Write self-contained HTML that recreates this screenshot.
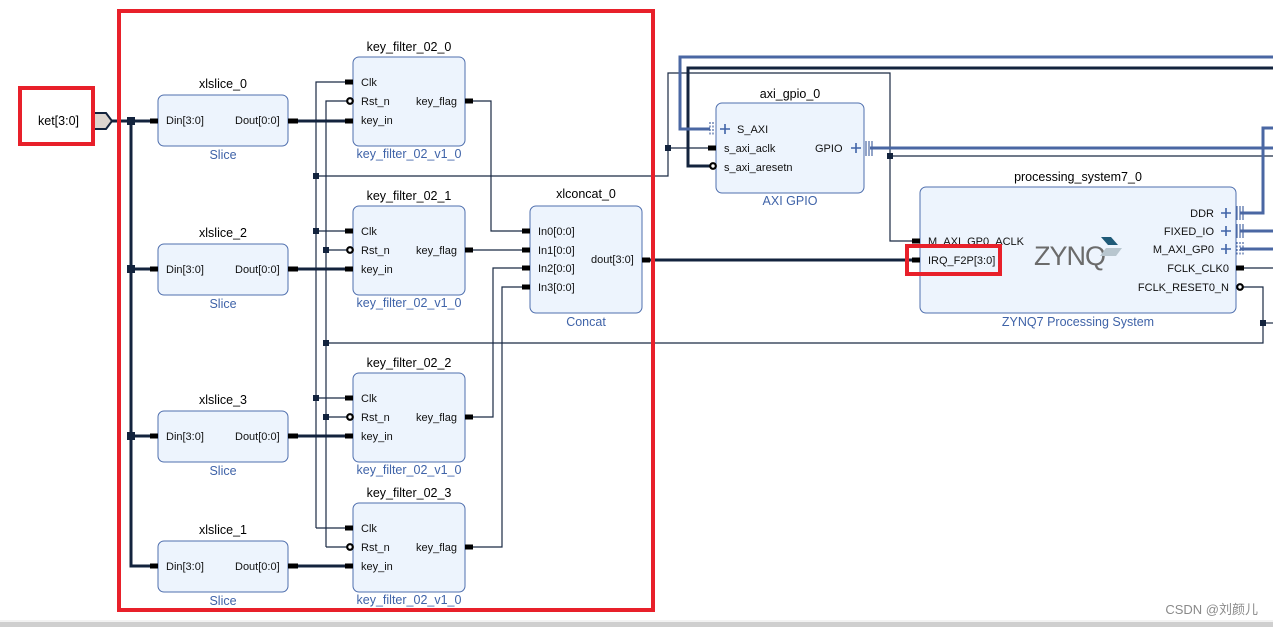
<!DOCTYPE html>
<html><head><meta charset="utf-8"><style>
html,body{margin:0;padding:0;background:#fff;}
svg{display:block;font-family:"Liberation Sans","Noto Sans CJK SC",sans-serif;}
.t{font-size:12.5px;fill:#000}
.p{font-size:11px;fill:#111}
.s{font-size:12.5px;fill:#3f63a8}
.b{fill:#edf4fd;stroke:#4f6fae;stroke-width:1}
.w{stroke:#1a2a44;stroke-width:1.2;fill:none}
.k{stroke:#13233d;stroke-width:3;fill:none}
.bl{stroke:#4a67a3;stroke-width:3;fill:none}
.st{stroke:#000;stroke-width:5}
</style></head><body>
<svg width="1273" height="627" viewBox="0 0 1273 627">
<rect x="0" y="622" width="1273" height="5" fill="#cfcfcf"/>
<line x1="0" y1="621" x2="1273" y2="621" stroke="#e6e6e6"/>
<g class="w">
<path d="M316 528 V82 H353"/><path d="M326 547 V101 H348"/>
<path d="M316 231 H353 M316 398 H353 M316 528 H353"/>
<path d="M326 250 H348 M326 417 H348 M326 547 H348"/>
<path d="M316 176 H668 V73 H890 V241 H920"/>
<path d="M668 148 H716"/>
<path d="M890 156 H1273"/>
<path d="M326 343 H1263 V287 H1240"/>
<path d="M1263 323 H1273"/>
<path d="M1240 268 H1273"/>
<path d="M465 101 H491 V231 H530"/>
<path d="M465 250 H530"/>
<path d="M465 417 H493 V268 H530"/>
<path d="M465 547 H502 V287 H530"/>
</g>
<g class="k">
<path d="M112 121 H158"/><path d="M131 121 V566 H158"/>
<path d="M131 269 H158 M131 436 H158"/>
<path d="M288 121 H353 M288 269 H353 M288 436 H353 M288 566 H353"/>
<path d="M642 260 H920"/>
<path d="M1273 68 H688 V166 H710"/>
</g>
<g class="bl">
<path d="M1273 57 H680 V129 H710"/>
<path d="M870 148 H1273"/>
<path d="M1240 213 H1263 V128 H1273"/>
<path d="M1240 231 H1273 M1240 249 H1273"/>
</g>
<g fill="#13233d">
<rect x="127" y="117" width="8" height="8"/><rect x="127" y="265" width="8" height="8"/><rect x="127" y="432" width="8" height="8"/>
<rect x="313" y="173" width="6" height="6"/><rect x="313" y="228" width="6" height="6"/><rect x="313" y="395" width="6" height="6"/>
<rect x="323" y="247" width="6" height="6"/><rect x="323" y="340" width="6" height="6"/><rect x="323" y="414" width="6" height="6"/>
<rect x="665" y="145" width="6" height="6"/><rect x="887" y="153" width="6" height="6"/><rect x="1260" y="320" width="6" height="6"/>
</g>
<path d="M94 113 H106 L112 121 L106 129 H94 Z" fill="#ddd5cf" stroke="#13233d" stroke-width="2"/>
<rect x="20" y="88" width="73" height="56" fill="none" stroke="#e8202a" stroke-width="4"/>
<text x="38" y="125" class="t">ket[3:0]</text>
<rect x="119" y="11" width="534" height="599" fill="none" stroke="#e8202a" stroke-width="4"/>
<g>
<rect class="b" x="158" y="95" width="130" height="51" rx="6"/><text class="t" x="223" y="88" text-anchor="middle">xlslice_0</text>
<text class="s" x="223" y="159" text-anchor="middle">Slice</text>
<rect class="b" x="158" y="244" width="130" height="51" rx="6"/><text class="t" x="223" y="237" text-anchor="middle">xlslice_2</text>
<text class="s" x="223" y="308" text-anchor="middle">Slice</text>
<rect class="b" x="158" y="411" width="130" height="51" rx="6"/><text class="t" x="223" y="404" text-anchor="middle">xlslice_3</text>
<text class="s" x="223" y="475" text-anchor="middle">Slice</text>
<rect class="b" x="158" y="541" width="130" height="51" rx="6"/><text class="t" x="223" y="534" text-anchor="middle">xlslice_1</text>
<text class="s" x="223" y="605" text-anchor="middle">Slice</text>
</g>
<g class="p">
<text x="166" y="124">Din[3:0]</text><text x="235" y="124">Dout[0:0]</text>
<text x="166" y="273">Din[3:0]</text><text x="235" y="273">Dout[0:0]</text>
<text x="166" y="440">Din[3:0]</text><text x="235" y="440">Dout[0:0]</text>
<text x="166" y="570">Din[3:0]</text><text x="235" y="570">Dout[0:0]</text>
</g>
<g class="st">
<path d="M150 121 H158 M150 269 H158 M150 436 H158 M150 566 H158"/>
<path d="M288 121 H298 M288 269 H298 M288 436 H298 M288 566 H298"/>
</g>
<g>
<rect class="b" x="353" y="57" width="112" height="89" rx="6"/><text class="t" x="409" y="51" text-anchor="middle">key_filter_02_0</text><text class="s" x="409" y="158" text-anchor="middle">key_filter_02_v1_0</text>
<rect class="b" x="353" y="206" width="112" height="89" rx="6"/><text class="t" x="409" y="200" text-anchor="middle">key_filter_02_1</text><text class="s" x="409" y="307" text-anchor="middle">key_filter_02_v1_0</text>
<rect class="b" x="353" y="373" width="112" height="89" rx="6"/><text class="t" x="409" y="367" text-anchor="middle">key_filter_02_2</text><text class="s" x="409" y="474" text-anchor="middle">key_filter_02_v1_0</text>
<rect class="b" x="353" y="503" width="112" height="89" rx="6"/><text class="t" x="409" y="497" text-anchor="middle">key_filter_02_3</text><text class="s" x="409" y="604" text-anchor="middle">key_filter_02_v1_0</text>
</g>
<g class="p">
<text x="361" y="86">Clk</text><text x="361" y="105">Rst_n</text><text x="361" y="124">key_in</text><text x="416" y="105">key_flag</text>
<text x="361" y="235">Clk</text><text x="361" y="254">Rst_n</text><text x="361" y="273">key_in</text><text x="416" y="254">key_flag</text>
<text x="361" y="402">Clk</text><text x="361" y="421">Rst_n</text><text x="361" y="440">key_in</text><text x="416" y="421">key_flag</text>
<text x="361" y="532">Clk</text><text x="361" y="551">Rst_n</text><text x="361" y="570">key_in</text><text x="416" y="551">key_flag</text>
</g>
<g class="st">
<path d="M345 82 H353 M345 231 H353 M345 398 H353 M345 528 H353"/>
<path d="M345 121 H353 M345 269 H353 M345 436 H353 M345 566 H353"/>
<path d="M465 101 H473 M465 250 H473 M465 417 H473 M465 547 H473"/>
</g>
<g fill="#fff" stroke="#000" stroke-width="2.2">
<circle cx="350" cy="101" r="2.8"/><circle cx="350" cy="250" r="2.8"/><circle cx="350" cy="417" r="2.8"/><circle cx="350" cy="547" r="2.8"/>
</g>
<rect class="b" x="530" y="206" width="112" height="107" rx="6"/>
<text class="t" x="586" y="198" text-anchor="middle">xlconcat_0</text>
<text class="s" x="586" y="326" text-anchor="middle">Concat</text>
<g class="p"><text x="538" y="235">In0[0:0]</text><text x="538" y="254">In1[0:0]</text><text x="538" y="272">In2[0:0]</text><text x="538" y="291">In3[0:0]</text><text x="591" y="263">dout[3:0]</text></g>
<g class="st"><path d="M522 231 H530 M522 250 H530 M522 268 H530 M522 287 H530 M642 260 H650"/></g>
<rect class="b" x="716" y="103" width="148" height="90" rx="6"/>
<text class="t" x="790" y="98" text-anchor="middle">axi_gpio_0</text>
<text class="s" x="790" y="205" text-anchor="middle">AXI GPIO</text>
<g class="p"><text x="737" y="133">S_AXI</text><text x="724" y="152">s_axi_aclk</text><text x="724" y="171">s_axi_aresetn</text><text x="815" y="152">GPIO</text></g>
<g stroke="#3f63a8" stroke-width="1.6"><path d="M720 129 H730 M725 124 V134 M851 148 H861 M856 143 V153"/></g>
<path d="M710 122 V136 M713 122 V136" stroke="#4a67a3" stroke-width="1.2" stroke-dasharray="2 1.5"/>
<path d="M866 141 V156 M869 141 V156 M872 141 V156" stroke="#4a67a3" stroke-width="1.2"/>
<g class="st"><path d="M708 148 H716"/></g>
<circle cx="713" cy="166" r="2.8" fill="#fff" stroke="#000" stroke-width="2.2"/>
<rect class="b" x="920" y="187" width="316" height="126" rx="6"/>
<text class="t" x="1078" y="181" text-anchor="middle">processing_system7_0</text>
<text class="s" x="1078" y="326" text-anchor="middle">ZYNQ7 Processing System</text>
<g class="p"><text x="928" y="245">M_AXI_GP0_ACLK</text><text x="928" y="264">IRQ_F2P[3:0]</text>
<text x="1214" y="217" text-anchor="end">DDR</text><text x="1214" y="235" text-anchor="end">FIXED_IO</text><text x="1214" y="253" text-anchor="end">M_AXI_GP0</text>
<text x="1229" y="272" text-anchor="end">FCLK_CLK0</text><text x="1229" y="291" text-anchor="end">FCLK_RESET0_N</text></g>
<g stroke="#3f63a8" stroke-width="1.6"><path d="M1221 213 H1231 M1226 208 V218 M1221 231 H1231 M1226 226 V236 M1221 249 H1231 M1226 244 V254"/></g>
<path d="M1237 206 V220 M1240 206 V220 M1243 206 V220 M1237 224 V238 M1240 224 V238 M1243 224 V238" stroke="#4a67a3" stroke-width="1.2"/>
<path d="M1237 242 V256 M1240 242 V256 M1243 242 V256" stroke="#4a67a3" stroke-width="1.2" stroke-dasharray="2 1.5"/>
<g class="st"><path d="M912 241 H920 M912 260 H920 M1236 268 H1244"/></g>
<circle cx="1240" cy="287" r="2.8" fill="#fff" stroke="#000" stroke-width="2.2"/>
<text x="1034" y="265" font-size="27" fill="#6b6b6b" font-family="Liberation Sans, sans-serif" letter-spacing="-1">ZYNQ</text>
<path d="M1101 237 H1111 L1118 245 H1108 Z" fill="#1f5a78"/><path d="M1106 248 H1122 L1116 256 H1100 Z" fill="#b8c6cf"/>
<rect x="907" y="246" width="93" height="28" fill="none" stroke="#e8202a" stroke-width="4"/>
<text x="1258" y="614" font-size="13" fill="#8a8a8a" text-anchor="end">CSDN @刘颜儿</text>
</svg>
</body></html>
